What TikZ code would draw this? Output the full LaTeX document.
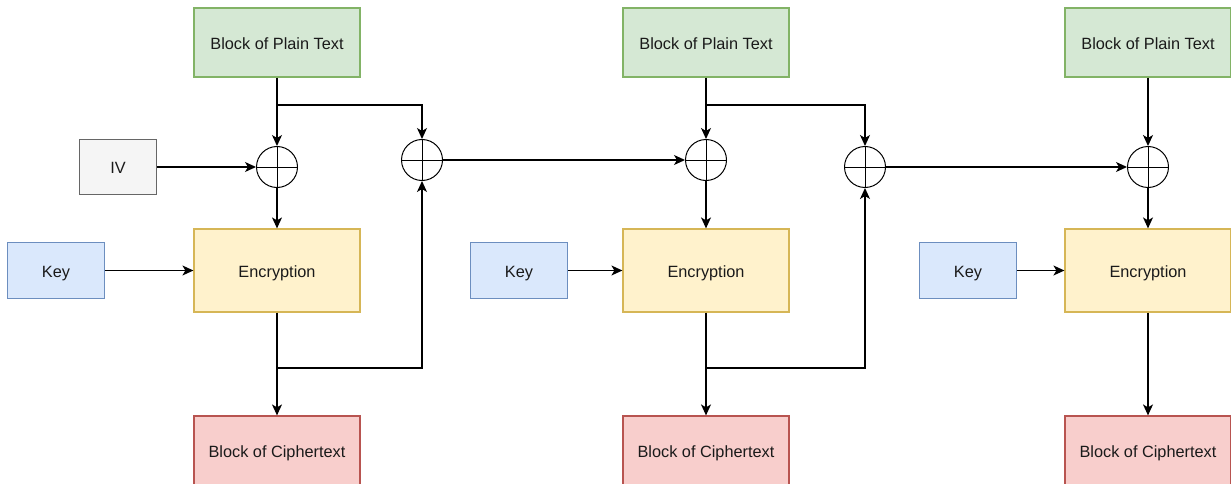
\documentclass[tikz,border=0pt]{standalone}
\usepackage{fontspec}
\setmainfont{Liberation Sans}
\usetikzlibrary{arrows.meta}
\definecolor{gfill}{HTML}{D5E8D4}\definecolor{gline}{HTML}{82B366}
\definecolor{yfill}{HTML}{FFF2CC}\definecolor{yline}{HTML}{D6B656}
\definecolor{bfill}{HTML}{DAE8FC}\definecolor{bline}{HTML}{6C8EBF}
\definecolor{rfill}{HTML}{F8CECC}\definecolor{rline}{HTML}{B85450}
\definecolor{sfill}{HTML}{F5F5F5}\definecolor{sline}{HTML}{666666}
\definecolor{txt}{HTML}{1A1A1A}
\begin{document}
\begin{tikzpicture}[x=1pt,y=-1pt,
  box/.style={draw,line width=1.2pt,inner sep=0pt,align=center,text=txt,
    text height=13.5pt,text depth=0pt,
    font=\fontsize{16.3}{19}\selectfont},
  plainbox/.style={box,fill=gfill,draw=gline,minimum width=166pt,minimum height=69pt},
  encbox/.style={box,fill=yfill,draw=yline,minimum width=166pt,minimum height=83pt},
  cipherbox/.style={box,fill=rfill,draw=rline,minimum width=166pt,minimum height=69pt},
  keybox/.style={box,fill=bfill,draw=bline,minimum width=97pt,minimum height=56pt},
  ivbox/.style={box,fill=sfill,draw=sline,minimum width=77pt,minimum height=55pt},
  xorgate/.style={circle,draw,line width=1pt,minimum size=41pt,inner sep=0pt,
    path picture={\draw[line width=1pt] (path picture bounding box.north) -- (path picture bounding box.south)
      (path picture bounding box.west) -- (path picture bounding box.east);}},
  conn/.style={line width=1.3pt,-{Stealth[length=11pt,width=10pt,inset=3pt]}}]
\useasboundingbox (0,0) rectangle (1231,484);
% column 1
\node[plainbox] (p1) at (277,42.5) {Block of Plain Text};
\node[xorgate] (x1) at (277,167) {};
\node[ivbox] (iv) at (118,167) {IV};
\node[keybox] (k1) at (56,270.5) {Key};
\node[encbox] (e1) at (277,270.5) {Encryption};
\node[cipherbox] (c1) at (277,450.5) {Block of Ciphertext};
\node[xorgate] (x2) at (422,160) {};
% column 2
\node[plainbox] (p2) at (706,42.5) {Block of Plain Text};
\node[xorgate] (x3) at (706,160) {};
\node[keybox] (k2) at (519,270.5) {Key};
\node[encbox] (e2) at (706,270.5) {Encryption};
\node[cipherbox] (c2) at (706,450.5) {Block of Ciphertext};
\node[xorgate] (x4) at (865,167) {};
% column 3
\node[plainbox] (p3) at (1148,42.5) {Block of Plain Text};
\node[xorgate] (x5) at (1148,167) {};
\node[keybox] (k3) at (968,270.5) {Key};
\node[encbox] (e3) at (1148,270.5) {Encryption};
\node[cipherbox] (c3) at (1148,450.5) {Block of Ciphertext};
% branch points
\coordinate (b1) at (277,105);
\coordinate (f1) at (277,368);
\coordinate (b2) at (706,105);
\coordinate (f2) at (706,368);
% connectors column 1
\draw[conn] (p1) -- (x1);
\draw[conn] (iv) -- (x1);
\draw[conn] (x1) -- (e1);
\draw[conn] (k1) -- (e1);
\draw[conn] (e1) -- (c1);
\draw[conn] (b1) -| (x2.north);
\draw[conn] (f1) -| (x2.south);
\draw[conn] (x2) -- (x3);
% connectors column 2
\draw[conn] (p2) -- (x3);
\draw[conn] (x3) -- (e2);
\draw[conn] (k2) -- (e2);
\draw[conn] (e2) -- (c2);
\draw[conn] (b2) -| (x4.north);
\draw[conn] (f2) -| (x4.south);
\draw[conn] (x4) -- (x5);
% connectors column 3
\draw[conn] (p3) -- (x5);
\draw[conn] (x5) -- (e3);
\draw[conn] (k3) -- (e3);
\draw[conn] (e3) -- (c3);
\end{tikzpicture}
\end{document}
